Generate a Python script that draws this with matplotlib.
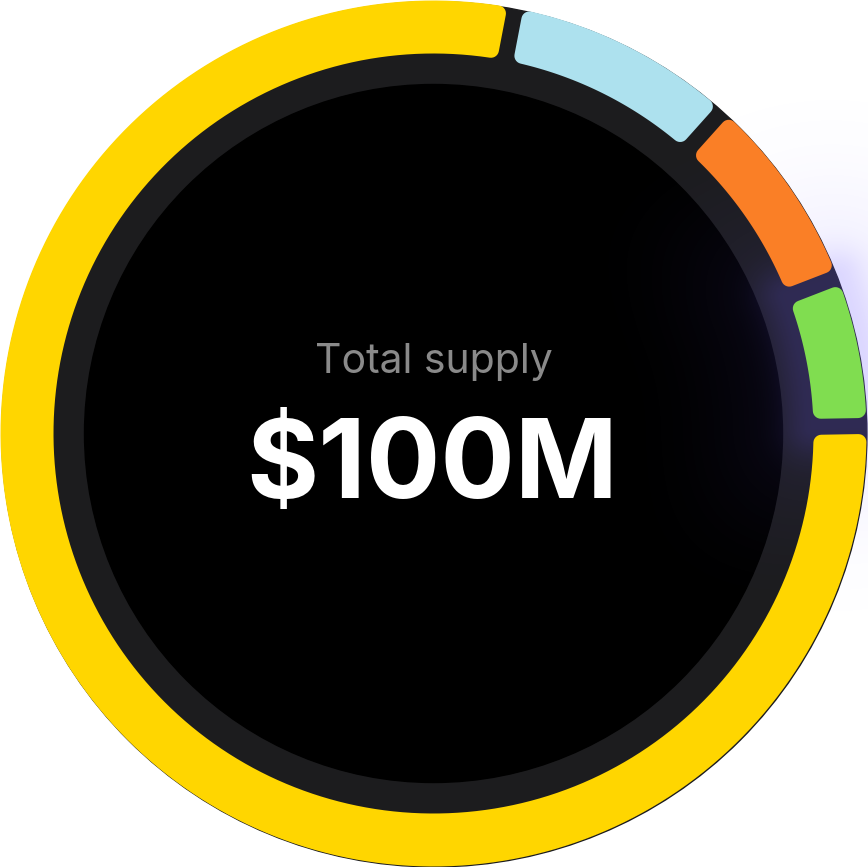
import numpy as np
import matplotlib
matplotlib.use("Agg")
import matplotlib.pyplot as plt
from matplotlib.patches import Circle, Polygon

# supply split (share of total, %)
labels = ["Main", "Light blue", "Orange", "Green"]
shares = [78.3, 8.6, 7.5, 5.6]
colors = ["#FFD600", "#ADE1EE", "#FA7F26", "#80DD50"]
start_angle = 89.0          # degrees clockwise from 12 o'clock
title_text = "Total supply"
value_text = "$100M"

W, H = 868, 867
cx, cy = 433.5, 433.5
R_out, R_in = 433, 380
R_black = 349
gap = 16            # px between segments
rc = 8              # corner radius


def pt(r, th):
    return np.array([cx + r * np.sin(th), cy - r * np.cos(th)])


def corner(c, p0, p1, n=8):
    a0 = np.arctan2(p0[1] - c[1], p0[0] - c[0])
    a1 = np.arctan2(p1[1] - c[1], p1[0] - c[0])
    d = (a1 - a0 + np.pi) % (2 * np.pi) - np.pi
    t = a0 + d * np.linspace(0, 1, n)
    return np.column_stack([c[0] + rc * np.cos(t), c[1] + rc * np.sin(t)])


def seg_path(a, b):
    pts = []
    ro, ri = R_out - rc, R_in + rc
    ao0 = a + np.arcsin((gap / 2 + rc) / ro)
    ao1 = b - np.arcsin((gap / 2 + rc) / ro)
    ai0 = a + np.arcsin((gap / 2 + rc) / ri)
    ai1 = b - np.arcsin((gap / 2 + rc) / ri)

    def foot(c, th, side):
        u = np.array([np.sin(th), -np.cos(th)])
        n = np.array([np.cos(th), np.sin(th)]) * side
        base = np.array([cx, cy]) + n * (gap / 2)
        return base + u * np.dot(c - base, u)

    t = np.linspace(ao0, ao1, 200)
    pts += [pt(R_out, x) for x in t]
    c = pt(ro, ao1)
    pts += list(corner(c, pt(R_out, ao1), foot(c, b, -1)))
    c = pt(ri, ai1)
    pts += list(corner(c, foot(c, b, -1), pt(R_in, ai1)))
    t = np.linspace(ai1, ai0, 200)
    pts += [pt(R_in, x) for x in t]
    c = pt(ri, ai0)
    pts += list(corner(c, pt(R_in, ai0), foot(c, a, 1)))
    c = pt(ro, ao0)
    pts += list(corner(c, foot(c, a, 1), pt(R_out, ao0)))
    return np.array(pts)


fig = plt.figure(figsize=(W / 100, H / 100), dpi=100)
ax = fig.add_axes([0, 0, 1, 1])
ax.set_xlim(0, W)
ax.set_ylim(H, 0)
ax.axis("off")
fig.patch.set_facecolor("white")

# dark base disc, nudged a touch to the lower right like the original
ax.add_patch(Circle((cx + 0.8, cy + 0.8), 432.6, color="#1C1C1E", zorder=1))
ax.add_patch(Circle((cx, cy), R_black, color="black", zorder=2))

# segment boundaries
total = sum(shares)
bounds = np.deg2rad(start_angle + np.concatenate([[0], np.cumsum(shares)]) / total * 360)

# soft purple glow around the last (green) segment
ga, gb = bounds[-2], bounds[-1]
yy, xx = np.mgrid[0:H, 0:W] + 0.5
rr = np.hypot(xx - cx, yy - cy)
th = np.mod(np.arctan2(xx - cx, cy - yy), 2 * np.pi)
ga_m, gb_m = np.mod(ga, 2 * np.pi), np.mod(gb, 2 * np.pi)
dth = np.maximum(0, np.maximum(ga_m - th, th - gb_m))
dr = np.maximum(0, np.maximum(rr - R_out, R_in - rr))
dist = np.hypot(dr, dth * rr)
alpha = 0.16 * np.exp(-(dist / 30) ** 2) + 0.08 * np.exp(-(dist / 110) ** 2)
glow = np.zeros((H, W, 4))
glow[..., 0] = 110 / 255
glow[..., 1] = 90 / 255
glow[..., 2] = 1.0
glow[..., 3] = alpha
ax.imshow(glow, extent=(0, W, H, 0), zorder=3, interpolation="bilinear")

for i, col in enumerate(colors):
    poly = Polygon(seg_path(bounds[i], bounds[i + 1]), closed=True,
                   facecolor=col, edgecolor="none", zorder=4)
    ax.add_patch(poly)

ax.text(cx, 373, title_text, color="#8A8A8A", fontsize=29.5,
        family=["Inter", "DejaVu Sans"], ha="center", va="baseline", zorder=5)
ax.text(cx - 1, 498, value_text, color="white", fontsize=79.5, fontweight="bold",
        family=["Inter", "DejaVu Sans"], ha="center", va="baseline", zorder=5)

fig.savefig("out.png", dpi=100, facecolor="white")
